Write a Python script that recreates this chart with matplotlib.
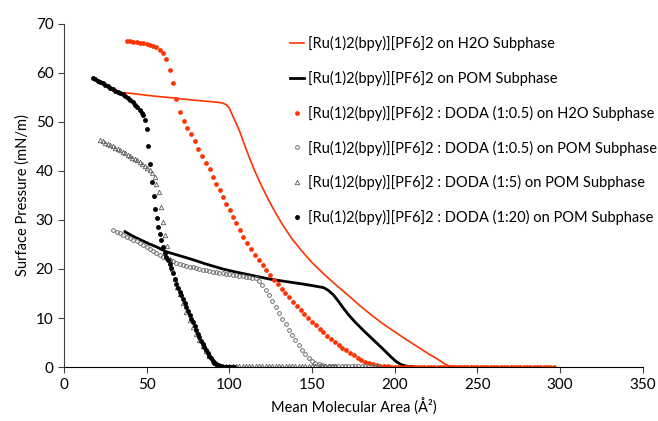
import matplotlib.pyplot as plt

plt.rcParams['font.family'] = ['Lato', 'DejaVu Sans']

labels = [
    '[Ru(1)2(bpy)][PF6]2 on H2O Subphase',
    '[Ru(1)2(bpy)][PF6]2 on POM Subphase',
    '[Ru(1)2(bpy)][PF6]2 : DODA (1:0.5) on H2O Subphase',
    '[Ru(1)2(bpy)][PF6]2 : DODA (1:0.5) on POM Subphase',
    '[Ru(1)2(bpy)][PF6]2 : DODA (1:5) on POM Subphase',
    '[Ru(1)2(bpy)][PF6]2 : DODA (1:20) on POM Subphase',
]

# Ru complex alone, H2O subphase (red line)
h2o_area = [37, 45, 55, 65, 75, 85, 92, 96, 98, 100, 103, 106, 109, 112, 115, 118, 121, 124,
            128, 133, 138, 144, 150, 158, 165, 172, 179, 186, 193, 200, 207, 214, 220, 226,
            230, 233, 240, 260, 280, 296]
h2o_pres = [55.9, 55.6, 55.2, 54.9, 54.5, 54.2, 54.0, 53.8, 53.5, 52.8, 50.5, 48.3, 45.5, 42.8,
            40.3, 38.0, 35.9, 33.9, 31.4, 28.6, 26.1, 23.6, 21.3, 18.7, 16.6, 14.6, 12.5, 10.6,
            8.8, 7.2, 5.6, 4.1, 2.8, 1.6, 0.7, 0.25, 0.1, 0.05, 0.02, 0.0]

# Ru complex alone, POM subphase (black line)
pom_area = [37, 41, 46, 51, 56, 62, 69, 76, 86, 96, 105, 115, 125, 135, 145, 152, 157, 160,
            163, 166, 169, 172, 176, 181, 186, 191, 195, 198, 201, 204, 207, 211]
pom_pres = [27.6, 26.8, 26.0, 25.2, 24.5, 23.5, 22.8, 22.1, 21.0, 20.0, 19.3, 18.6, 17.9, 17.4,
            16.9, 16.5, 16.2, 15.6, 14.7, 13.4, 12.0, 10.7, 9.2, 7.5, 5.9, 4.3, 3.0, 2.0, 1.1,
            0.5, 0.2, 0.1]

# DODA 1:0.5 on H2O (red dots)
d05h_area = [38, 40, 42, 44, 46, 48, 50, 52, 54, 56, 58, 60, 62, 64, 66, 68, 70, 72.5, 74.7,
             76.7, 79.2, 81.4, 83.6, 85.8, 88.2, 90.2, 91.8, 94.3, 96.3, 98.3, 100.3, 102.3,
             104.3, 106.3, 108.6, 110.9, 113.2, 115.5, 117.8, 120.1, 122.4, 124.7, 127.0,
             129.3, 131.6, 133.9, 136.2, 138.5, 140.8, 143.1, 145.4, 147.7, 150.0, 152.3,
             154.6, 156.9, 159.2, 161.5, 163.8, 166.1, 168.4, 170.7, 173.0, 175.3, 177.6,
             179.9, 182.2, 184.5, 186.8, 189.1, 191.4, 193.7, 196,
             198, 200, 202, 204, 206, 208, 210, 212, 214, 216,
             218, 220, 222, 224, 226, 228, 230, 232, 234, 236,
             238, 240, 242, 244, 246, 248, 250, 252, 254, 256,
             258, 260, 262, 264, 266, 268, 270, 272, 274, 276,
             278, 280, 282, 284, 286, 288, 290, 292, 294, 296]
d05h_pres = [66.5, 66.4, 66.3, 66.2, 66.1, 66.0, 65.9, 65.7, 65.5, 65.2, 64.7, 64.0, 62.7, 60.5,
             57.8, 54.6, 52.0, 50.2, 48.7, 47.4, 46.0, 44.5, 43.1, 41.6, 40.3, 38.8, 37.3, 36.0,
             34.7, 33.3, 32.0, 30.5, 29.3, 27.9, 26.6, 25.3, 24.0, 22.9, 21.8, 20.8, 19.8,
             18.8, 17.8, 16.9, 16.0, 15.1, 14.2, 13.3, 12.4, 11.6, 10.8, 10.0, 9.2, 8.5, 7.8,
             7.1, 6.4, 5.8, 5.1, 4.5, 3.9, 3.4, 2.9, 2.4, 1.9, 1.5, 1.1, 0.8, 0.6, 0.4, 0.3,
             0.2, 0.15,
             0.1, 0.1, 0.1, 0.1, 0.1, 0.1, 0.1, 0.1, 0.1, 0.1,
             0.1, 0.1, 0.1, 0.1, 0.1, 0.1, 0.1, 0.1, 0.1, 0.1,
             0.1, 0.1, 0.1, 0.1, 0.1, 0.1, 0.1, 0.1, 0.1, 0.1,
             0.1, 0.1, 0.1, 0.1, 0.1, 0.1, 0.1, 0.1, 0.1, 0.1,
             0.1, 0.1, 0.1, 0.1, 0.1, 0.1, 0.1, 0.1, 0.1, 0.1]

# DODA 1:0.5 on POM (open circles)
d05p_area = [30, 32, 34, 36, 38, 40, 42, 44, 46, 48, 50, 52, 54, 56, 58, 60, 62, 64, 66, 68,
             70, 72, 74, 76, 78, 80, 82, 84, 86, 88, 90, 92, 94, 96, 98, 100, 102, 104, 106,
             108, 110, 112, 114, 116, 118, 120, 122, 124, 126, 128, 130, 132, 134, 136, 138,
             140, 142, 144, 146, 148, 150, 152, 154, 156, 158, 160, 162, 164, 166, 168, 170,
             172, 174, 176, 178, 180, 182, 184, 186, 188, 190]
d05p_pres = [27.9, 27.6, 27.3, 27.0, 26.6, 26.3, 25.9, 25.6, 25.2, 24.8, 24.4, 24.0, 23.6,
             23.3, 22.9, 22.5, 22.2, 21.9, 21.6, 21.3, 21.1, 20.9, 20.7, 20.5, 20.3, 20.1, 20.0,
             19.8, 19.7, 19.5, 19.4, 19.3, 19.2, 19.1, 19.0, 18.9, 18.8, 18.7, 18.6, 18.5, 18.4,
             18.3, 18.2, 18.1, 17.6, 16.8, 15.8, 14.7, 13.4, 12.2, 11.0, 9.8, 8.7, 7.6, 6.5,
             5.5, 4.5, 3.5, 2.6, 1.9, 1.3, 0.9, 0.6, 0.4, 0.3, 0.2, 0.2, 0.2, 0.2, 0.2, 0.2,
             0.2, 0.2, 0.2, 0.2, 0.2, 0.2, 0.2, 0.2, 0.2, 0.2]

# DODA 1:5 on POM (open triangles)
d5p_area = [22, 23.5, 25, 26.5, 28, 29.5, 31, 32.5, 34, 35.5, 37, 38.5, 40, 41.5, 43, 44.5, 46,
            47.5, 49, 50.5, 52, 53.5, 55, 56, 57.6, 59, 60, 61, 62.4, 64, 65.5, 67, 68.5, 70,
            72, 74, 76, 78, 80, 82, 84, 86, 88, 90, 92, 94, 96,
            98, 100, 102, 104, 106, 108, 110, 112, 114, 116,
            118, 120, 122, 124, 126, 128, 130, 132, 134, 136,
            138, 140, 142, 144, 146, 148, 150, 152, 154, 156,
            158, 160, 162, 164]
d5p_pres = [46.2, 46.0, 45.7, 45.5, 45.2, 45.0, 44.7, 44.5, 44.2, 43.9, 43.6, 43.3, 43.0, 42.7,
            42.4, 42.1, 41.8, 41.4, 41.0, 40.5, 40.1, 39.5, 38.8, 37.4, 35.7, 32.6, 29.6, 26.9,
            24.6, 22.0, 20.0, 18.0, 16.3, 14.8, 13.0, 11.3, 9.7, 8.2, 6.8, 5.5, 4.3, 3.2, 2.3,
            1.5, 0.9, 0.5, 0.3,
            0.2, 0.2, 0.2, 0.2, 0.2, 0.2, 0.2, 0.2, 0.2, 0.2,
            0.2, 0.2, 0.2, 0.2, 0.2, 0.2, 0.2, 0.2, 0.2, 0.2,
            0.2, 0.2, 0.2, 0.2, 0.2, 0.2, 0.2, 0.2, 0.2, 0.2,
            0.2, 0.2, 0.2, 0.2]

# DODA 1:20 on POM (black dots)
d20p_area = [17.7, 19, 20.5, 22, 23.5, 25, 26.5, 28, 29.5, 31, 32.5, 34, 35.8, 37, 38.5, 40,
             41.9, 43, 44.5, 45.9, 47, 48, 49, 50, 51, 52, 53, 54.6, 55.4, 56.4, 57.2, 58, 59,
             60, 61, 62, 63, 64, 65, 66, 67, 68, 69, 70, 71, 72, 73, 74, 75, 76, 77, 78, 79,
             80, 81, 82, 83, 84, 85, 86, 87, 88, 89, 90, 91, 92, 93, 94, 95, 96, 97, 98, 99,
             100, 101, 102, 103]
d20p_pres = [59.0, 58.7, 58.4, 58.1, 57.8, 57.5, 57.2, 56.9, 56.6, 56.3, 56.0, 55.9, 55.7, 55.2,
             54.8, 54.5, 54.0, 53.5, 52.9, 52.3, 51.7, 51.3, 50.3, 48.5, 45.0, 41.3, 37.7, 34.9,
             32.3, 30.3, 28.6, 27.2, 25.9, 24.5, 23.2, 22.5, 21.8, 21.1, 20.1, 19.1, 18.0, 17.0,
             16.2, 15.4, 14.6, 13.8, 13.0, 12.3, 11.5, 10.7, 9.9, 9.1, 8.3, 7.5, 6.8, 6.1, 5.4,
             4.7, 4.1, 3.5, 2.9, 2.3, 1.8, 1.3, 0.9, 0.6, 0.4, 0.25, 0.15, 0.1, 0.1, 0.1, 0.1,
             0.1, 0.1, 0.1, 0.1]

red = '#FF3300'

fig = plt.figure(figsize=(6.58, 4.21), dpi=100)
ax = fig.add_axes([0.097, 0.128, 0.880, 0.816])

ax.plot(h2o_area, h2o_pres, color=red, lw=1.2, label=labels[0])
ax.plot(pom_area, pom_pres, color='black', lw=2.0, label=labels[1])
ax.plot(d05h_area, d05h_pres, ls='none', marker='o', ms=2.4, color=red, mec=red,
        label=labels[2])
ax.plot(d05p_area, d05p_pres, ls='none', marker='o', ms=2.7, mfc='none', mec='#707070',
        mew=0.7, label=labels[3])
ax.plot(d5p_area, d5p_pres, ls='none', marker='^', ms=3.2, mfc='none', mec='#5a5a5a',
        mew=0.6, label=labels[4])
ax.plot(d20p_area, d20p_pres, ls='none', marker='o', ms=2.5, color='black', label=labels[5])

ax.set_xlim(0, 350)
ax.set_ylim(0, 70)
ax.set_xticks(range(0, 351, 50))
ax.set_yticks(range(0, 71, 10))
ax.spines['top'].set_visible(False)
ax.spines['right'].set_visible(False)
ax.spines['left'].set_color('#404040')
ax.spines['bottom'].set_color('black')
ax.tick_params(direction='out', length=4, labelsize=11, color='#404040')
ax.set_xlabel('Mean Molecular Area (Å²)', fontsize=10.5, labelpad=5)
ax.set_ylabel('Surface Pressure (mN/m)', fontsize=10.5, labelpad=4)

ax.legend(loc='upper left', bbox_to_anchor=(0.440, 0.915), bbox_transform=fig.transFigure,
          frameon=False, fontsize=10.5, numpoints=1, handlelength=1.0, handletextpad=0.25,
          labelspacing=1.36, borderpad=0, borderaxespad=0)

fig.savefig('out.png', dpi=100)
